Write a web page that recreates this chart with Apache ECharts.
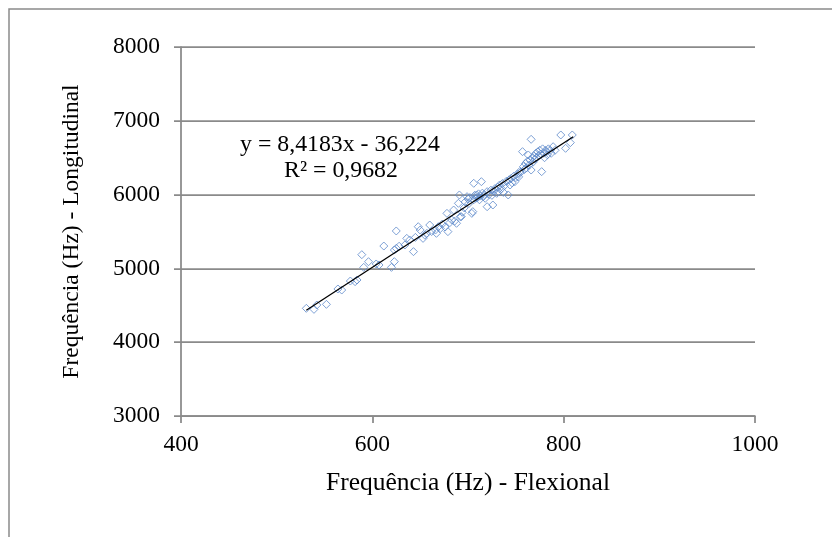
<!DOCTYPE html>
<html><head><meta charset="utf-8">
<script src="https://cdn.jsdelivr.net/npm/echarts@6/dist/echarts.min.js"></script>
<style>html,body{margin:0;padding:0;background:#fff}#c{width:832px;height:537px}</style>
</head><body><div id="c"></div>
<script>
// Flexional frequency (Hz) and longitudinal frequency (Hz) pairs
const flexional = [531,539,542,552,564,568,577,582,584,589,591,596,604,607,612,620,623,623,625,625,628,634,636,639,643,645,648,650,653,655,657,660,662,666,667,669,671,673,676,678,679,681,683,685,686,688,690,691,692,693,694,696,697,699,700,701,702,704,705,706,706,707,708,709,710,711,712,713,714,715,716,717,718,720,720,722,724,725,726,727,728,730,731,732,733,735,736,737,738,740,742,743,744,745,746,748,749,750,752,753,754,755,757,758,759,760,761,762,763,764,765,766,766,767,768,769,770,771,772,773,774,775,776,777,778,779,780,781,782,783,784,786,787,789,791,797,802,807,809];
const longitudinal = [4459,4445,4504,4513,4721,4707,4829,4820,4843,5186,5014,5091,5060,5046,5303,5014,5091,5249,5507,5272,5300,5317,5407,5385,5227,5420,5565,5520,5407,5450,5475,5588,5500,5520,5475,5565,5540,5600,5560,5746,5498,5620,5656,5791,5640,5611,5882,5995,5700,5701,5760,5820,5900,5972,5940,5880,5960,5746,5769,6153,5930,5990,5950,5995,5960,6010,5930,5980,6175,6020,5972,6000,5950,5836,6040,6000,6060,5990,5859,6050,6080,6017,6100,6040,6130,6080,6150,6030,6120,6180,5995,6200,6130,6220,6160,6250,6175,6230,6280,6240,6311,6300,6582,6380,6340,6420,6360,6450,6537,6400,6470,6749,6333,6500,6440,6520,6480,6560,6500,6580,6530,6600,6550,6311,6620,6560,6500,6600,6580,6540,6620,6600,6560,6649,6600,6808,6627,6704,6808];
// Linear trendline endpoints (y = 8,4183x - 36,224)
const trendX = [531, 810];
const trendY = [4434, 6783];
const xTicks = [400, 600, 800, 1000];
const yTicks = [3000, 4000, 5000, 6000, 7000, 8000];
const eqLine1 = 'y = 8,4183x - 36,224';
const eqLine2 = 'R² = 0,9682';

const FONT = 'Liberation Serif, Times New Roman, serif';
const GRAY = '#8a8a8a';
const chart = echarts.init(document.getElementById('c'), null, {renderer: 'canvas'});
const pts = flexional.map((x, i) => [x, longitudinal[i]]);
const trend = trendX.map((x, i) => [x, trendY[i]]);
chart.setOption({
  animation: false,
  backgroundColor: '#fff',
  grid: {left: 181, top: 47, width: 574, height: 369, containLabel: false},
  xAxis: {
    type: 'value', min: xTicks[0], max: xTicks[xTicks.length - 1], interval: 200,
    name: 'Frequência (Hz) - Flexional', nameLocation: 'middle', nameGap: 67,
    nameTextStyle: {fontFamily: FONT, fontSize: 25.5, color: '#000', verticalAlign: 'middle'},
    axisLine: {show: true, lineStyle: {color: GRAY, width: 1.75}},
    axisTick: {show: true, inside: false, length: 7, lineStyle: {color: GRAY, width: 1.75}},
    axisLabel: {fontFamily: FONT, fontSize: 23.5, color: '#000', margin: 17, formatter: v => String(v)},
    splitLine: {show: false}
  },
  yAxis: {
    type: 'value', min: yTicks[0], max: yTicks[yTicks.length - 1], interval: 1000,
    name: 'Frequência (Hz) - Longitudinal', nameLocation: 'middle', nameGap: 109,
    nameTextStyle: {fontFamily: FONT, fontSize: 23.5, color: '#000', verticalAlign: 'middle'},
    axisLine: {show: true, lineStyle: {color: GRAY, width: 1.75}},
    axisTick: {show: true, inside: false, length: 7, lineStyle: {color: GRAY, width: 1.75}},
    axisLabel: {fontFamily: FONT, fontSize: 23.5, color: '#000', margin: 21, formatter: v => String(v)},
    splitLine: {show: true, lineStyle: {color: GRAY, width: 1.75}}
  },
  graphic: [
    {type: 'rect', silent: true, z: -10, shape: {x: 9, y: 9, width: 840, height: 560},
     style: {fill: 'none', stroke: GRAY, lineWidth: 1.5}},
    {type: 'text', x: 340, y: 145, z: 100,
     style: {text: eqLine1, align: 'center', verticalAlign: 'middle', textAlign: 'center', textVerticalAlign: 'middle', fontFamily: FONT, fontSize: 23.8, fill: '#000'}},
    {type: 'text', x: 341, y: 171, z: 100,
     style: {text: eqLine2, align: 'center', verticalAlign: 'middle', textAlign: 'center', textVerticalAlign: 'middle', fontFamily: FONT, fontSize: 23.8, fill: '#000'}}
  ],
  series: [
    {type: 'scatter', data: pts, symbol: 'diamond', symbolSize: 8,
     itemStyle: {color: 'rgba(0,0,0,0)', borderColor: '#5e8acb', borderWidth: 1}},
    {type: 'line', data: trend, symbol: 'none', lineStyle: {color: '#000', width: 1.3}, z: 3}
  ]
});
</script>
</body></html>
